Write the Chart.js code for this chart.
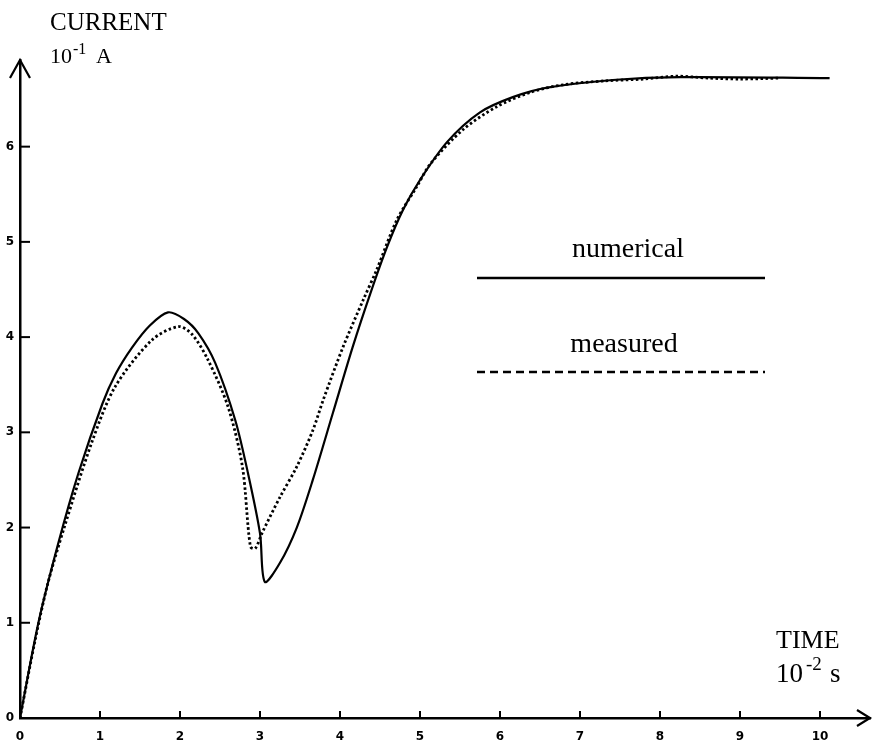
<!DOCTYPE html>
<html>
<head>
<meta charset="utf-8">
<script src="https://cdn.jsdelivr.net/npm/chart.js@4/dist/chart.umd.min.js"></script>
<style>
  html, body { margin: 0; padding: 0; background: #fff; }
  #wrap { width: 873px; height: 746px; }
</style>
</head>
<body>
<div id="wrap"><canvas id="c" width="873" height="746"></canvas></div>
<script>
// ---- data (time in 10^-2 s, current in 10^-1 A) ----
const numTime    = [0, 0.23, 0.48, 0.73, 1.03, 1.20, 1.40, 1.62, 1.85, 2.05, 2.23, 2.44, 2.69, 2.85, 3.00, 3.06, 3.25, 3.46, 3.66, 3.91, 4.16, 4.38, 4.59, 4.79, 5.00, 5.34, 5.75, 6.16, 6.59, 7.41, 8.25, 10.12];
const numCurrent = [0, 1.00, 1.84, 2.57, 3.30, 3.62, 3.89, 4.12, 4.26, 4.19, 4.04, 3.73, 3.13, 2.57, 1.94, 1.43, 1.63, 2.00, 2.50, 3.20, 3.90, 4.46, 4.95, 5.34, 5.65, 6.05, 6.36, 6.52, 6.62, 6.70, 6.73, 6.72];

const measTime    = [0, 0.19, 0.35, 0.56, 0.90, 1.19, 1.65, 1.98, 2.15, 2.35, 2.60, 2.78, 2.88, 2.94, 3.03, 3.25, 3.46, 3.66, 3.79, 4.04, 4.29, 4.46, 4.71, 4.96, 5.13, 5.54, 5.96, 6.38, 6.79, 7.30, 7.80, 8.20, 8.60, 9.00, 9.50];
const measCurrent = [0, 0.82, 1.42, 2.02, 2.90, 3.48, 3.97, 4.11, 4.03, 3.76, 3.27, 2.64, 1.80, 1.78, 1.95, 2.32, 2.64, 3.02, 3.34, 3.90, 4.39, 4.71, 5.23, 5.58, 5.82, 6.18, 6.42, 6.57, 6.65, 6.69, 6.71, 6.74, 6.72, 6.71, 6.72];

const xTickValues = [0, 1, 2, 3, 4, 5, 6, 7, 8, 9, 10];
const yTickValues = [0, 1, 2, 3, 4, 5, 6];
const seriesNames = ['numerical', 'measured'];

const toPoints = (xs, ys) => xs.map((x, i) => ({ x: x, y: ys[i] }));

const SERIF = '"Liberation Serif", "DejaVu Serif", serif';

const decor = {
  id: 'decor',
  afterDraw(chart) {
    const ctx = chart.ctx;
    const xs = chart.scales.x, ys = chart.scales.y;
    const x0 = xs.getPixelForValue(0), y0 = ys.getPixelForValue(0);
    const xEnd = xs.right, yTop = ys.top;
    ctx.save();
    ctx.strokeStyle = '#000';
    ctx.fillStyle = '#000';
    ctx.lineWidth = 2;
    // inside tick marks
    xTickValues.forEach(v => {
      if (v === 0) return;
      const px = xs.getPixelForValue(v);
      ctx.beginPath(); ctx.moveTo(px, y0); ctx.lineTo(px, y0 - 7); ctx.stroke();
    });
    yTickValues.forEach(v => {
      if (v === 0) return;
      const py = ys.getPixelForValue(v);
      ctx.beginPath(); ctx.moveTo(x0, py); ctx.lineTo(x0 + 10, py); ctx.stroke();
    });
    // arrowheads
    ctx.lineWidth = 2.2;
    ctx.beginPath();
    ctx.moveTo(x0 - 10, yTop + 18); ctx.lineTo(x0, yTop); ctx.lineTo(x0 + 10, yTop + 18);
    ctx.stroke();
    ctx.beginPath();
    ctx.moveTo(xEnd - 13, y0 - 8); ctx.lineTo(xEnd, y0); ctx.lineTo(xEnd - 13, y0 + 8);
    ctx.stroke();

    // axis titles
    ctx.textBaseline = 'alphabetic';
    ctx.textAlign = 'left';
    ctx.font = '25px ' + SERIF;
    ctx.fillText('CURRENT', 50, 30);
    ctx.font = '22px ' + SERIF;
    ctx.fillText('10', 50, 63);
    ctx.font = '16px ' + SERIF;
    ctx.fillText('-1', 73, 54);
    ctx.font = '22px ' + SERIF;
    ctx.fillText('A', 96, 63);

    ctx.font = '26px ' + SERIF;
    ctx.fillText('TIME', 776, 648);
    ctx.font = '27px ' + SERIF;
    ctx.fillText('10', 776, 682);
    ctx.font = '19px ' + SERIF;
    ctx.fillText('-2', 806, 670);
    ctx.font = '27px ' + SERIF;
    ctx.fillText('s', 830, 682);

    // legend
    ctx.textAlign = 'center';
    ctx.font = '28px ' + SERIF;
    ctx.fillText(seriesNames[0], 628, 257);
    ctx.fillText(seriesNames[1], 624, 352);
    ctx.lineWidth = 2.6;
    ctx.beginPath(); ctx.moveTo(477, 278); ctx.lineTo(765, 278); ctx.stroke();
    ctx.setLineDash([8, 5]);
    ctx.beginPath(); ctx.moveTo(477, 372); ctx.lineTo(765, 372); ctx.stroke();
    ctx.restore();
  }
};

new Chart(document.getElementById('c'), {
  type: 'scatter',
  data: {
    datasets: [
      {
        label: seriesNames[0],
        data: toPoints(numTime, numCurrent),
        showLine: true,
        borderColor: '#000',
        borderWidth: 2.2,
        pointRadius: 0,
        tension: 0.3,
        fill: false
      },
      {
        label: seriesNames[1],
        data: toPoints(measTime, measCurrent),
        showLine: true,
        borderColor: '#000',
        borderWidth: 2.8,
        borderDash: [2.5, 2.5],
        pointRadius: 0,
        tension: 0.3,
        fill: false
      }
    ]
  },
  options: {
    responsive: false,
    animation: false,
    devicePixelRatio: 1,
    layout: { padding: { top: 60, right: 3, left: 0, bottom: 0 } },
    plugins: { legend: { display: false }, tooltip: { enabled: false } },
    scales: {
      x: {
        type: 'linear',
        min: 0,
        max: 10.625,
        afterBuildTicks: s => { s.ticks = xTickValues.map(v => ({ value: v })); },
        afterFit: s => { s.height = 28; },
        grid: { display: false, drawTicks: false },
        border: { display: true, color: '#000', width: 2.5 },
        ticks: {
          color: '#000',
          padding: 12,
          maxRotation: 0,
          autoSkip: false,
          font: { family: '"DejaVu Sans", sans-serif', size: 12, weight: 'bold' }
        }
      },
      y: {
        type: 'linear',
        min: 0,
        max: 6.91,
        afterBuildTicks: s => { s.ticks = yTickValues.map(v => ({ value: v })); },
        afterFit: s => { s.width = 20; },
        grid: { display: false, drawTicks: false },
        border: { display: true, color: '#000', width: 2.5 },
        ticks: {
          color: '#000',
          padding: 6,
          autoSkip: false,
          font: { family: '"DejaVu Sans", sans-serif', size: 12, weight: 'bold' }
        }
      }
    }
  },
  plugins: [decor]
});
</script>
</body>
</html>
